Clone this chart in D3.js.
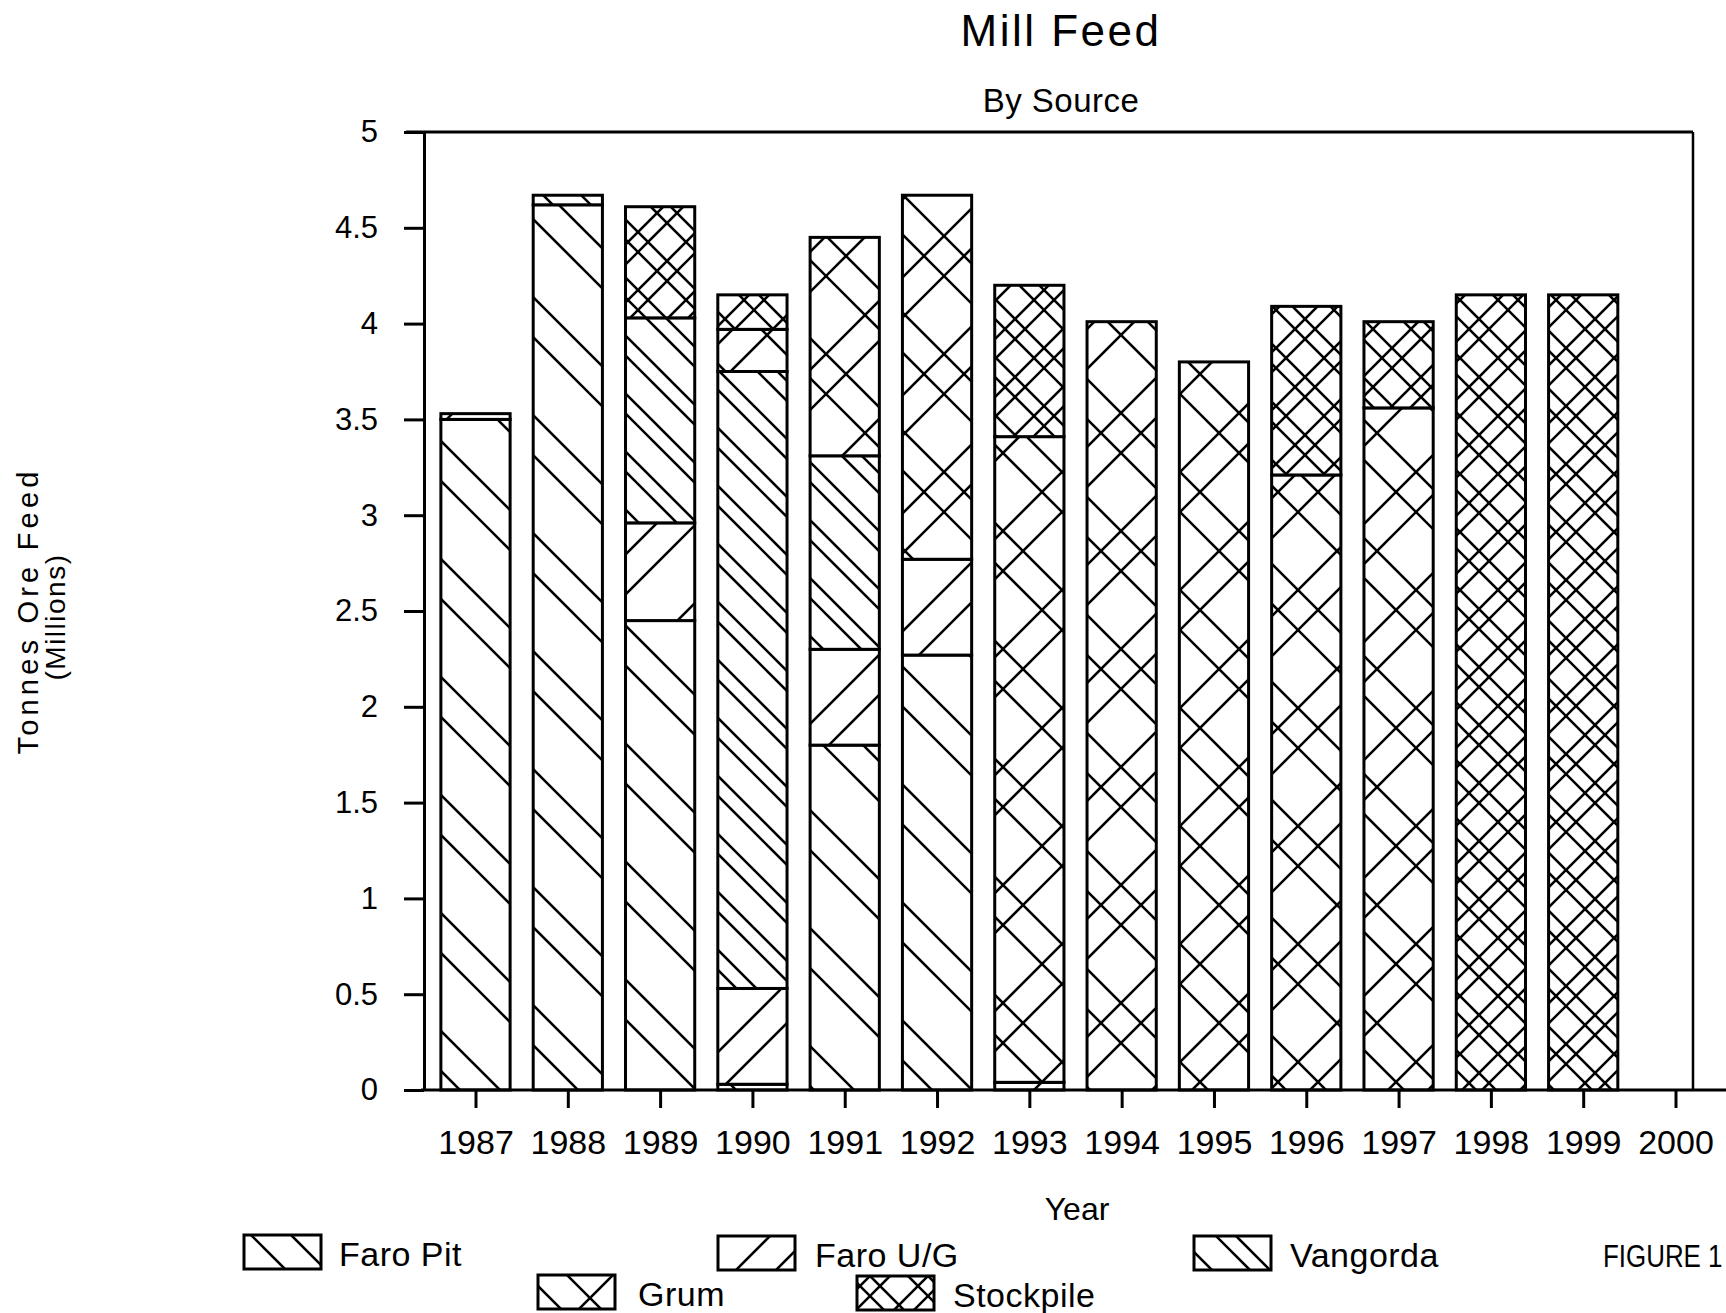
<!DOCTYPE html>
<html>
<head>
<meta charset="utf-8">
<script src="https://cdn.jsdelivr.net/npm/d3@7"></script>
<style>
  body { margin: 0; background: #fff; }
  text { font-family: "Liberation Sans", Arial, sans-serif; fill: #000; }
</style>
</head>
<body>
<script>
var width = 1726,
    height = 1313;

// data, millions of tonnes
var years     = [1987, 1988, 1989, 1990, 1991, 1992, 1993, 1994, 1995, 1996, 1997, 1998, 1999, 2000];
var faroPit   = [3.50, 4.62, 2.45, 0.03, 1.80, 2.27, 0.00, 0.00, 0.00, 0.00, 0.00, 0.00, 0.00, 0];
var faroUG    = [0.03, 0.00, 0.51, 0.50, 0.50, 0.50, 0.04, 0.00, 0.00, 0.00, 0.00, 0.00, 0.00, 0];
var vangorda  = [0.00, 0.05, 1.07, 3.22, 1.01, 0.00, 0.00, 0.00, 0.00, 0.00, 0.00, 0.00, 0.00, 0];
var grum      = [0.00, 0.00, 0.00, 0.22, 1.14, 1.90, 3.37, 4.01, 3.80, 3.21, 3.56, 0.00, 0.00, 0];
var stockpile = [0.00, 0.00, 0.58, 0.18, 0.00, 0.00, 0.79, 0.00, 0.00, 0.88, 0.45, 4.15, 4.15, 0];
var yTicks    = [0, 0.5, 1, 1.5, 2, 2.5, 3, 3.5, 4, 4.5, 5];

var keys = ["faroPit", "faroUG", "vangorda", "grum", "stockpile"];
var labels = {faroPit: "Faro Pit", faroUG: "Faro U/G", vangorda: "Vangorda", grum: "Grum", stockpile: "Stockpile"};

var table = years.map((y, i) => ({year: y, faroPit: faroPit[i], faroUG: faroUG[i],
  vangorda: vangorda[i], grum: grum[i], stockpile: stockpile[i]}));

var margin = ({top: 132, right: 33, bottom: 223, left: 424});

var svg = d3.select("body").append("svg")
    .attr("width", width)
    .attr("height", height);

svg.append("rect").attr("width", width).attr("height", height).attr("fill", "#fff");

var defs = svg.append("defs");

// hatch patterns: P = repeat, d = offset of the second line of each pair
function hatch(id, P, d, back, fwd) {
  var p = defs.append("pattern")
    .attr("id", id)
    .attr("patternUnits", "userSpaceOnUse")
    .attr("width", P)
    .attr("height", P);
  p.append("rect").attr("width", P).attr("height", P).attr("fill", "#fff");
  var g = p.append("g").attr("stroke", "#000").attr("stroke-width", 2.6).attr("fill", "none");
  if (back) {
    [-P, 0, P, d - P, d].forEach(k => {
      g.append("line").attr("x1", -5).attr("y1", -5 + k).attr("x2", P + 5).attr("y2", P + 5 + k);
    });
  }
  if (fwd) {
    [0, P, 2 * P, d, d + P].forEach(c => {
      g.append("line").attr("x1", -5).attr("y1", c + 5).attr("x2", P + 5).attr("y2", c - P - 5);
    });
  }
}

hatch("p-faroPit", 118, 40, true, false);
hatch("p-faroUG", 118, 40, false, true);
hatch("p-vangorda", 58, 20, true, false);
hatch("p-grum", 118, 40, true, true);
hatch("p-stockpile", 58, 20, true, true);

var x = d3.scalePoint()
    .domain(years)
    .range([475.5, 1675.5]);

var barW = x.step() * 0.75;

var y = d3.scaleLinear()
    .domain([0, 5])
    .range([height - margin.bottom, margin.top]);

var series = d3.stack().keys(keys)(table);

// bars
series.forEach(s => {
  svg.append("g")
    .selectAll("rect")
    .data(s.filter(d => d[1] - d[0] > 0))
    .join("rect")
      .attr("x", d => x(d.data.year) - barW / 2)
      .attr("y", d => y(d[1]))
      .attr("width", barW)
      .attr("height", d => y(d[0]) - y(d[1]))
      .attr("fill", "url(#p-" + s.key + ")")
      .attr("stroke", "#000")
      .attr("stroke-width", 3);
});

// frame
svg.append("line")
    .attr("x1", margin.left - 18).attr("x2", width - margin.right)
    .attr("y1", margin.top).attr("y2", margin.top)
    .attr("stroke", "#000").attr("stroke-width", 3);
svg.append("line")
    .attr("x1", width - margin.right).attr("x2", width - margin.right)
    .attr("y1", margin.top).attr("y2", y(0))
    .attr("stroke", "#000").attr("stroke-width", 2.5);

var yAxis = g => g
    .attr("transform", `translate(${margin.left},0)`)
    .call(d3.axisLeft(y).tickValues(yTicks).tickSize(20).tickPadding(26).tickSizeOuter(0)
      .tickFormat(d3.format("")))
    .call(g => g.select(".domain").attr("stroke-width", 3))
    .call(g => g.selectAll(".tick line").attr("stroke-width", 3))
    .call(g => g.selectAll(".tick text").attr("font-size", 31).attr("font-family", "Liberation Sans"));

var xAxis = g => g
    .attr("transform", `translate(0,${y(0)})`)
    .call(d3.axisBottom(x).tickSize(18).tickPadding(22).tickSizeOuter(0))
    .call(g => g.select(".domain").remove())
    .call(g => g.selectAll(".tick line").attr("stroke-width", 3))
    .call(g => g.selectAll(".tick text").attr("font-size", 34).attr("font-family", "Liberation Sans"));

svg.append("g").call(yAxis);
svg.append("g").call(xAxis);

svg.append("line")
    .attr("x1", margin.left - 3).attr("x2", width)
    .attr("y1", y(0)).attr("y2", y(0))
    .attr("stroke", "#000").attr("stroke-width", 3);

// titles
svg.append("text")
    .attr("x", 1061).attr("y", 46)
    .attr("text-anchor", "middle")
    .attr("font-size", 44)
    .attr("letter-spacing", 2.5)
    .text("Mill Feed");

svg.append("text")
    .attr("x", 1061).attr("y", 112)
    .attr("text-anchor", "middle")
    .attr("font-size", 33)
    .attr("letter-spacing", 0.5)
    .text("By Source");

svg.append("text")
    .attr("transform", "translate(38,611) rotate(-90)")
    .attr("text-anchor", "middle")
    .attr("font-size", 29)
    .attr("letter-spacing", 4.2)
    .text("Tonnes Ore Feed");

svg.append("text")
    .attr("transform", "translate(65,617) rotate(-90)")
    .attr("text-anchor", "middle")
    .attr("font-size", 28)
    .attr("letter-spacing", 1.5)
    .text("(Millions)");

svg.append("text")
    .attr("x", 1077).attr("y", 1220)
    .attr("text-anchor", "middle")
    .attr("font-size", 32)
    .text("Year");

// legend
var legendPos = {
  faroPit:   {bx: 244, by: 1235, tx: 339, ty: 1266},
  faroUG:    {bx: 718, by: 1236, tx: 815, ty: 1267},
  vangorda:  {bx: 1194, by: 1236, tx: 1290, ty: 1267},
  grum:      {bx: 538, by: 1275, tx: 638, ty: 1306},
  stockpile: {bx: 857, by: 1276, tx: 953, ty: 1307}
};

var legend = svg.append("g")
  .selectAll("g")
  .data(keys)
  .join("g");

legend.append("rect")
    .attr("x", d => legendPos[d].bx)
    .attr("y", d => legendPos[d].by)
    .attr("width", 77)
    .attr("height", 34)
    .attr("fill", d => "url(#p-" + d + ")")
    .attr("stroke", "#000")
    .attr("stroke-width", 3);

legend.append("text")
    .attr("x", d => legendPos[d].tx)
    .attr("y", d => legendPos[d].ty)
    .attr("font-size", 34)
    .attr("letter-spacing", 0.5)
    .text(d => labels[d]);

svg.append("text")
    .attr("transform", "translate(1603,1267) scale(0.81,1)")
    .attr("font-size", 32)
    .text("FIGURE 1");
</script>
</body>
</html>
